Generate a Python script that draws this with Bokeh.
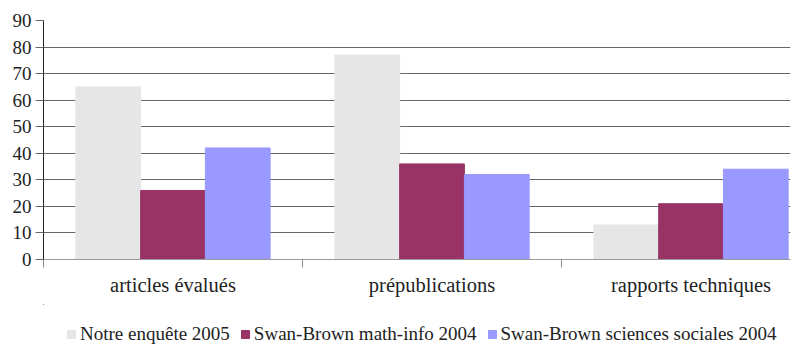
from bokeh.plotting import figure
from bokeh.models import (ColumnDataSource, Range1d, FixedTicker, Legend, LegendItem)
from bokeh.layouts import column
from bokeh.embed import file_html
from bokeh.resources import INLINE

categories = ["articles évalués", "prépublications", "rapports techniques"]
series_names = ["Notre enquête 2005", "Swan-Brown math-info 2004", "Swan-Brown sciences sociales 2004"]
notre_2005 = [65, 77, 13]
math_info_2004 = [26, 36, 21]
sciences_sociales_2004 = [42, 32, 34]
y_ticks = [0, 10, 20, 30, 40, 50, 60, 70, 80, 90]

colors = ["#E6E6E6", "#993366", "#9999FF"]
series = [notre_2005, math_info_2004, sciences_sociales_2004]
offsets = [-0.25, 0.0, 0.25]
FONT = "serif"

p = figure(width=794, height=304, output_backend="svg", toolbar_location=None,
           x_range=Range1d(0, 2.884), y_range=Range1d(0, 90),
           min_border_left=43, min_border_right=4, min_border_top=20, min_border_bottom=45)
p.outline_line_color = None
p.background_fill_color = "white"

sources = []
for vals, col, off in zip(series, colors, offsets):
    src = ColumnDataSource(dict(x=[i + 0.5 + off for i in range(len(categories))], top=vals))
    sources.append(src)
    p.vbar(x="x", top="top", width=0.25, bottom=0, source=src,
           fill_color=col, line_color=col, line_width=1)

# y axis
p.yaxis.ticker = FixedTicker(ticks=y_ticks)
p.yaxis.axis_line_color = "#222222"
p.yaxis.major_tick_line_color = "#666666"
p.yaxis.major_tick_out = 8
p.yaxis.major_tick_in = 0
p.yaxis.minor_tick_line_color = None
p.yaxis.major_label_text_font = FONT
p.yaxis.major_label_text_font_size = "19px"
p.yaxis.major_label_text_color = "#222222"
p.yaxis.major_label_standoff = 4
p.ygrid.ticker = FixedTicker(ticks=y_ticks)
p.ygrid.grid_line_color = "#666666"
p.ygrid.grid_line_width = 1

# x axis
p.xaxis.ticker = FixedTicker(ticks=[0.5, 1.5, 2.5], minor_ticks=[0, 1, 2, 3])
p.xaxis.major_label_overrides = {0.5: categories[0], 1.5: categories[1], 2.5: categories[2]}
p.xaxis.axis_line_color = "#999999"
p.xaxis.major_tick_line_color = None
p.xaxis.major_tick_out = 0
p.xaxis.major_tick_in = 0
p.xaxis.minor_tick_line_color = "#888888"
p.xaxis.minor_tick_out = 8
p.xaxis.minor_tick_in = 0
p.xaxis.major_label_text_font = FONT
p.xaxis.major_label_text_font_size = "20.5px"
p.xaxis.major_label_text_color = "#222222"
p.xaxis.major_label_standoff = 6
p.xgrid.grid_line_color = None

# legend strip (same bars, kept far outside its view in x and y; only the legend shows)
p2 = figure(width=794, height=42, output_backend="svg", toolbar_location=None,
            x_range=Range1d(1000, 1002.884), y_range=Range1d(-1001, -1000),
            min_border_left=0, min_border_right=0, min_border_top=0, min_border_bottom=0)
p2.outline_line_color = None
p2.axis.visible = False
p2.grid.visible = False
leg_renderers = []
for src, col in zip(sources, colors):
    r = p2.vbar(x="x", top="top", width=0.25, bottom=0, source=src,
                fill_color=col, line_color=col)
    leg_renderers.append(r)

legend = Legend(items=[LegendItem(label=n, renderers=[r]) for n, r in zip(series_names, leg_renderers)],
                orientation="horizontal", location=(23, 1),
                border_line_color=None, background_fill_alpha=0,
                label_text_font=FONT, label_text_font_size="19px", label_text_color="#222222",
                glyph_width=10, glyph_height=10, label_standoff=4, spacing=10,
                padding=0, margin=0)
p2.add_layout(legend, "center")

layout = column(p, p2, spacing=0)
open("out.html", "w").write(file_html(layout, INLINE))
